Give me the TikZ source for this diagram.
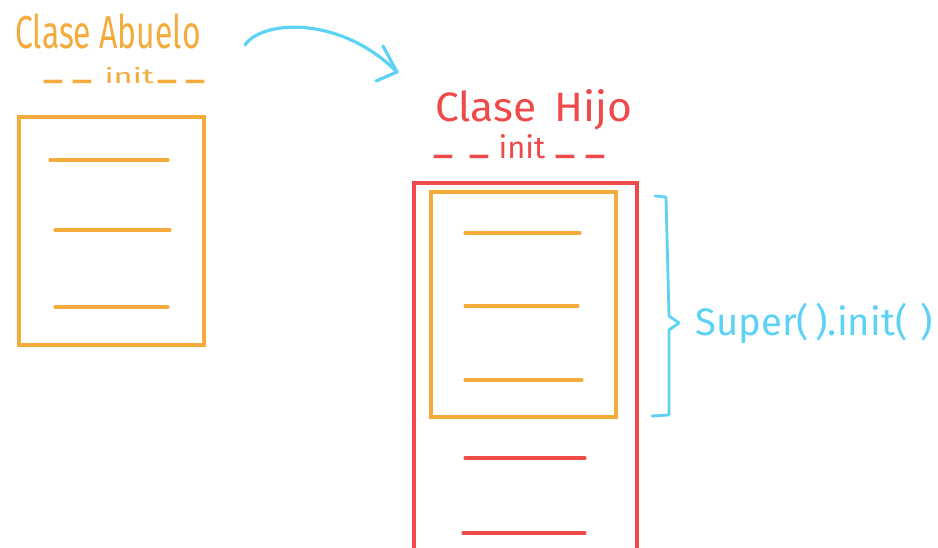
\documentclass[tikz,border=0pt]{standalone}
\usepackage{fontspec}
\setmainfont{Fira Sans}
\usetikzlibrary{calc}
\definecolor{orng}{HTML}{F5AA3C}
\definecolor{redd}{HTML}{EE4A4A}
\definecolor{cyn}{HTML}{5CD2F7}
\tikzset{
  px/.style={x=0.75pt,y=-0.75pt},
  obox/.style={draw=orng,line width=2.3pt,line cap=round},
  rbox/.style={draw=redd,line width=2.3pt,line cap=round},
  oline/.style={draw=orng,line width=2.3pt,line cap=round},
  rline/.style={draw=redd,line width=2.3pt,line cap=round},
  cline/.style={draw=cyn,line width=2.4pt,line cap=round,line join=round},
  txt/.style={inner sep=0pt,anchor=base west,font=\fontsize{20}{24}\selectfont},
  itxt/.style={inner sep=0pt,anchor=base west,font=\fontsize{12}{14}\selectfont},
}
\newcommand{\us}{\raisebox{5pt}[3pt][0pt]{\scalebox{2.4}[2.7]{\_}}}
\begin{document}
\begin{tikzpicture}[px]
\useasboundingbox (0,0) rectangle (938,548);
\clip (0,0) rectangle (938,548);
\fill[white] (0,0) rectangle (938,548);
% Abuelo
\node[txt,text=orng] (tA) at (15,49) {\resizebox{139pt}{26pt}{Clase Abuelo}};
\node[itxt,text=orng] (iA) at (43,84) {\us\hspace{7pt}\us\hspace{9pt}\resizebox{37pt}{12pt}{init}\hspace{3pt}\us\hspace{6pt}\us};
\coordinate (a1) at (19,117); \coordinate (a2) at (204,345);
\draw[obox] (a1) rectangle (a2);
\coordinate (al1) at (50,160); \coordinate (al2) at (168,160);
\coordinate (al3) at (55,230); \coordinate (al4) at (170,230);
\coordinate (al5) at (55,307); \coordinate (al6) at (168,307);
\draw[oline] (al1) -- (al2);
\draw[oline] (al3) -- (al4);
\draw[oline] (al5) -- (al6);
% arrow
\coordinate (s) at (245,45);
\coordinate (t) at (397,72);
\coordinate (h1) at (383,46);
\coordinate (h2) at (376,81);
\draw[cline] (s) .. controls (262,20) and (340,15) .. (t);
\draw[cline] (h1) -- (t) -- (h2);
% Hijo
\node[txt,text=redd] (tH) at (435,122) {\resizebox{148pt}{24pt}{Clase\, Hijo}};
\node[itxt,text=redd] (iH) at (433,159) {\us\hspace{12pt}\us\hspace{7pt}\resizebox{35pt}{18pt}{init}\hspace{8pt}\us\hspace{7pt}\us};
\coordinate (r1) at (414,560); \coordinate (r2) at (414,183);
\coordinate (r3) at (637,183); \coordinate (r4) at (637,560);
\draw[rbox] (r1) -- (r2) -- (r3) -- (r4);
\coordinate (o1) at (431,192); \coordinate (o2) at (616,417);
\draw[obox] (o1) rectangle (o2);
\coordinate (ol1) at (465,233); \coordinate (ol2) at (580,233);
\coordinate (ol3) at (465,306); \coordinate (ol4) at (578,306);
\coordinate (ol5) at (465,380); \coordinate (ol6) at (582,380);
\draw[oline] (ol1) -- (ol2);
\draw[oline] (ol3) -- (ol4);
\draw[oline] (ol5) -- (ol6);
\coordinate (rl1) at (465,458); \coordinate (rl2) at (585,458);
\coordinate (rl3) at (463,533); \coordinate (rl4) at (585,533);
\draw[rline] (rl1) -- (rl2);
\draw[rline] (rl3) -- (rl4);
% brace
\coordinate (b1) at (655,196); \coordinate (b2) at (666,197);
\coordinate (b3) at (669,316); \coordinate (b4) at (679,323);
\coordinate (b5) at (669,330); \coordinate (b6) at (669,415);
\coordinate (b7) at (652,416);
\draw[cline,line width=2.1pt] (b1) -- (b2) -- (b3) -- (b4) -- (b5) -- (b6) -- (b7);
\node[txt,text=cyn] (sp) at (695,336) {\resizebox{178pt}{!}{Super(\,).init(\,\,)}};
\end{tikzpicture}
\end{document}
